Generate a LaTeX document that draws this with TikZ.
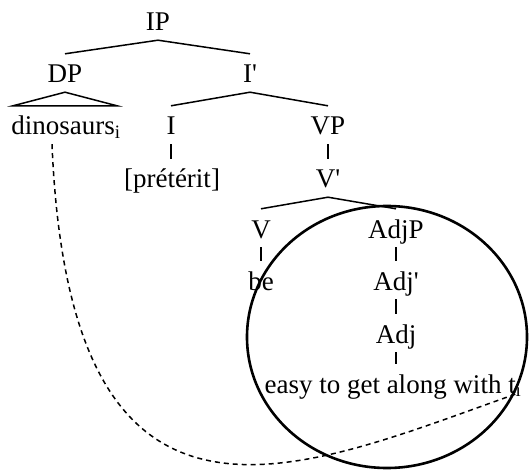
\documentclass[tikz,border=0pt]{standalone}
\usepackage{fontspec}
\setmainfont{Liberation Serif}
\usepackage{tikz}

\begin{document}
\begin{tikzpicture}[x=1pt, y=-1pt, font=\fontsize{27}{31}\selectfont,
    every node/.style={anchor=base, inner xsep=1pt, inner ysep=0pt, text height=29pt, text depth=9pt},
    branch/.style={line width=1.5pt},
    trace/.style={line width=1.5pt, dash pattern=on 5pt off 4pt}]
    \useasboundingbox (0,0) rectangle (529,470);

    \node (IP) at (158,31) {IP};
    \node (DP) at (65,83) {DP};
    \node (Ibar) at (250,83) {I\textquotesingle};
    \node (dino) at (66,135) {dinosaurs\textsubscript{i}};
    \node (I) at (171,135) {I};
    \node (VP) at (328,135) {VP};
    \node (pret) at (172,188) {[prétérit]};
    \node (Vbar) at (328,188) {V\textquotesingle};
    \node (V) at (261,238) {V};
    \node (AdjP) at (396,238) {AdjP};
    \node (be) at (261,290) {be};
    \node (Adjbar) at (396,290) {Adj\textquotesingle};
    \node (Adj) at (396,343) {Adj};
    \node (easy) at (393,393) {easy to get along with t\textsubscript{i}};

    \draw[branch] (DP.north) -- (IP.south) -- (Ibar.north);
    \coordinate (roof) at (DP.south |- dino.north);
    \draw[branch] ([xshift=-52pt]roof) -- (DP.south) -- ([xshift=52pt]roof) -- cycle;
    \draw[branch] (I.north) -- (Ibar.south) -- (VP.north);
    \draw[branch] (I.south) -- (I.south |- pret.north);
    \draw[branch] (VP.south) -- (Vbar.north);
    \draw[branch] (V.north) -- (Vbar.south) -- (AdjP.north);
    \draw[branch] (V.south) -- (be.north);
    \draw[branch] (AdjP.south) -- (Adjbar.north);
    \draw[branch] (Adjbar.south) -- (Adj.north);
    \draw[branch] (Adj.south) -- (Adj.south |- easy.north);

    % the circled constituent
    \draw[line width=2.6pt] (387,337) ellipse [x radius=140, y radius=131];

    % trace
    \draw[trace] ([xshift=-14pt]dino.south) .. controls (70,580) and (300,470) .. ([xshift=-4pt]easy.base east);
\end{tikzpicture}
\end{document}
